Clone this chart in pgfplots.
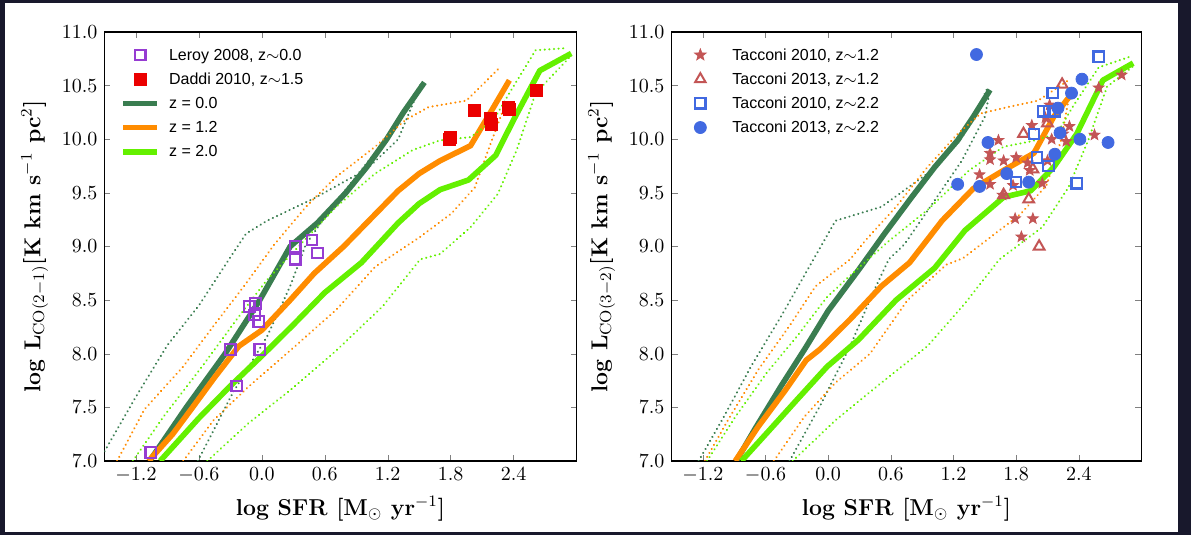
\documentclass[border=0pt]{standalone}
\usepackage{fontspec}
\usepackage{pgfplots}
\pgfplotsset{compat=1.18}
\newfontfamily\legfont{Liberation Sans}
\definecolor{dkg}{RGB}{58,125,80}
\definecolor{org}{RGB}{255,140,0}
\definecolor{lgr}{RGB}{100,240,0}
\definecolor{leroy}{RGB}{150,60,210}
\definecolor{daddi}{RGB}{235,0,0}
\definecolor{indr}{RGB}{195,85,85}
\definecolor{roy}{RGB}{65,105,225}
\definecolor{bgtop}{RGB}{24,24,44}
\newcommand\ls{\rule[-2.6pt]{0pt}{9.2pt}}
\pgfdeclareplotmark{fstar}{%
  \pgfpathmoveto{\pgfpointpolar{90}{\pgfplotmarksize}}%
  \pgfpathlineto{\pgfpointpolar{126}{0.42*\pgfplotmarksize}}%
  \pgfpathlineto{\pgfpointpolar{162}{\pgfplotmarksize}}%
  \pgfpathlineto{\pgfpointpolar{198}{0.42*\pgfplotmarksize}}%
  \pgfpathlineto{\pgfpointpolar{234}{\pgfplotmarksize}}%
  \pgfpathlineto{\pgfpointpolar{270}{0.42*\pgfplotmarksize}}%
  \pgfpathlineto{\pgfpointpolar{306}{\pgfplotmarksize}}%
  \pgfpathlineto{\pgfpointpolar{342}{0.42*\pgfplotmarksize}}%
  \pgfpathlineto{\pgfpointpolar{18}{\pgfplotmarksize}}%
  \pgfpathlineto{\pgfpointpolar{54}{0.42*\pgfplotmarksize}}%
  \pgfpathclose
  \pgfusepathqfillstroke}
\pgfplotsset{
  solidm/.style={line width=2.8pt, line join=round},
  dotm/.style={line width=1.15pt, line cap=round, dash pattern=on 0.01pt off 2.3pt},
  myaxis/.style={
    scale only axis, height=214.5pt,
    xmin=-1.5, xmax=3.0, ymin=7, ymax=11,
    xtick={-1.2,-0.6,0,0.6,1.2,1.8,2.4},
    ytick={7,7.5,8,8.5,9,9.5,10,10.5,11},
    tick align=inside, major tick length=3pt,
    axis line style={line width=0.9pt},
    /pgf/number format/fixed, /pgf/number format/fixed zerofill, /pgf/number format/precision=1,
    tick label style={font=\fontsize{10}{12}\selectfont},
    label style={font=\fontsize{11.5}{14}\selectfont\bfseries},
    xlabel={log SFR [M$_{\odot}$ yr$^{-1}$]},
    legend cell align=left,
    legend style={draw=none, fill=none, anchor=north west,
      font=\legfont\fontsize{8}{9.6}\selectfont},
  }
}
\begin{document}
\begin{tikzpicture}
\fill[bgtop] (0,0) rectangle (595.5pt,267.5pt);
\fill[white] (2.5pt,1.5pt) rectangle (589pt,266pt);
% ---------------- left panel
\begin{axis}[myaxis, at={(52.25pt,37pt)}, anchor=south west, width=236pt,
  legend style={at={(0.02,0.985)}},
  ylabel={log L$_{\mathrm{CO(2-1)}}$[K km s$^{-1}$ pc$^{2}$]}]
\addlegendimage{only marks, mark=square, draw=leroy, mark size=2.6pt, line width=1.1pt}
\addlegendentry{\ls\hspace{2.5pt}Leroy 2008, z$\sim$0.0}
\addlegendimage{only marks, mark=square*, draw=daddi, fill=daddi, mark size=3pt}
\addlegendentry{\ls\hspace{2.5pt}Daddi 2010, z$\sim$1.5}
\addlegendimage{no marks, dkg, line width=2.8pt}
\addlegendentry{\ls\hspace{2.5pt}z = 0.0}
\addlegendimage{no marks, org, line width=2.8pt}
\addlegendentry{\ls\hspace{2.5pt}z = 1.2}
\addlegendimage{no marks, lgr, line width=2.8pt}
\addlegendentry{\ls\hspace{2.5pt}z = 2.0}
% data points
\addplot[only marks, mark=square, mark size=2.6pt, draw=leroy, line width=1.1pt, forget plot] coordinates {
(-1.06,7.08) (-0.30,8.04) (-0.02,8.04) (-0.24,7.70) (-0.12,8.44) (-0.06,8.47)
(-0.07,8.36) (-0.03,8.30) (0.32,9.00) (0.32,8.88) (0.48,9.06) (0.53,8.94)};
\addplot[only marks, mark=square*, mark size=3pt, draw=daddi, fill=daddi, forget plot] coordinates {
(1.79,10.00) (1.80,10.02) (2.03,10.27) (2.18,10.19) (2.19,10.14) (2.35,10.30) (2.36,10.28) (2.62,10.46)};
% z = 0.0
\addplot[dotm, color=dkg, forget plot] coordinates {(-1.5,7.09) (-1.2,7.6) (-0.9,8.08) (-0.6,8.45) (-0.3,8.9) (-0.15,9.12) (0.05,9.24) (0.5,9.45) (1.0,9.72) (1.3,10.0) (1.52,10.52)};
\addplot[dotm, color=dkg, forget plot] coordinates {(-0.61,7.0) (-0.28,7.63) (0.05,8.16) (0.27,8.63) (0.42,9.02) (0.67,9.37) (0.97,9.74) (1.30,10.15) (1.52,10.52)};
\addplot[solidm, color=dkg, forget plot] coordinates {(-1.07,7.0) (-0.72,7.5) (-0.35,8.0) (-0.02,8.5) (0.27,9.0) (0.53,9.22) (0.8,9.5) (1.0,9.74) (1.19,10.0) (1.35,10.25) (1.55,10.53)};
% z = 1.2
\addplot[dotm, color=org, forget plot] coordinates {(-1.38,7.0) (-1.12,7.48) (-0.75,7.88) (-0.46,8.26) (-0.17,8.63) (0.12,9.02) (0.42,9.37) (0.71,9.65) (1.08,9.93) (1.37,10.18) (1.59,10.3) (1.95,10.36) (2.28,10.68)};
\addplot[dotm, color=org, forget plot] coordinates {(-0.75,7.0) (-0.46,7.38) (-0.13,7.69) (0.27,8.03) (0.71,8.41) (1.08,8.81) (1.51,9.09) (1.81,9.31) (2.03,9.55) (2.17,9.93) (2.33,10.35)};
\addplot[solidm, color=org, forget plot] coordinates {(-1.08,7.0) (-0.85,7.25) (-0.66,7.5) (-0.45,7.78) (-0.22,8.07) (0.0,8.22) (0.27,8.5) (0.5,8.75) (0.78,9.0) (1.05,9.27) (1.3,9.52) (1.5,9.68) (1.7,9.8) (1.99,9.94) (2.18,10.25) (2.36,10.55)};
% z = 2.0
\addplot[dotm, color=lgr, forget plot] coordinates {(-1.23,7.0) (-0.94,7.41) (-0.57,7.88) (-0.24,8.32) (0.05,8.69) (0.34,8.99) (0.71,9.37) (1.08,9.68) (1.44,9.9) (1.70,9.99) (1.99,10.02) (2.21,10.18) (2.36,10.43) (2.61,10.83) (2.91,10.85)};
\addplot[dotm, color=lgr, forget plot] coordinates {(-0.52,7.0) (-0.13,7.35) (0.27,7.66) (0.71,8.03) (1.15,8.44) (1.51,8.88) (1.70,8.93) (1.99,9.18) (2.25,9.49) (2.43,9.9) (2.61,10.43) (2.94,10.77)};
\addplot[solidm, color=lgr, forget plot] coordinates {(-0.97,7.0) (-0.6,7.4) (-0.3,7.7) (0.0,7.98) (0.3,8.27) (0.6,8.57) (0.95,8.85) (1.3,9.22) (1.5,9.4) (1.7,9.53) (1.97,9.62) (2.23,9.85) (2.4,10.18) (2.65,10.64) (2.95,10.8)};
\end{axis}
% ---------------- right panel
\begin{axis}[myaxis, at={(335.75pt,37pt)}, anchor=south west, width=235pt,
  legend style={at={(0.035,0.985)}},
  ylabel={log L$_{\mathrm{CO(3-2)}}$[K km s$^{-1}$ pc$^{2}$]}]
\addlegendimage{only marks, mark=fstar, draw=indr, fill=indr, mark size=3pt}
\addlegendentry{\ls\hspace{11pt}Tacconi 2010, z$\sim$1.2}
\addlegendimage{only marks, mark=triangle, draw=indr, mark size=3pt, line width=1pt}
\addlegendentry{\ls\hspace{11pt}Tacconi 2013, z$\sim$1.2}
\addlegendimage{only marks, mark=square, draw=roy, mark size=2.6pt, line width=1.1pt}
\addlegendentry{\ls\hspace{11pt}Tacconi 2010, z$\sim$2.2}
\addlegendimage{only marks, mark=*, draw=roy, fill=roy, mark size=3pt}
\addlegendentry{\ls\hspace{11pt}Tacconi 2013, z$\sim$2.2}
% data points
\addplot[only marks, mark=fstar, mark size=2.8pt, draw=indr, fill=indr, forget plot] coordinates {
(2.81,10.60) (2.59,10.48) (2.12,10.32) (1.95,10.13) (2.31,10.12) (2.08,10.20) (2.28,9.98) (2.55,10.04)
(1.63,9.99) (1.55,9.87) (1.55,9.81) (1.68,9.80) (1.80,9.83) (1.91,9.78) (1.93,9.71) (2.10,9.80)
(1.45,9.67) (1.55,9.58) (1.77,9.57) (2.05,9.59) (1.67,9.48) (1.79,9.26) (1.96,9.26) (1.85,9.09)
(2.25,10.05) (2.14,10.00)};
\addplot[only marks, mark=triangle, mark size=3.1pt, draw=indr, line width=1pt, forget plot] coordinates {
(2.24,10.51) (2.10,10.15) (1.87,10.05) (1.96,9.72) (1.68,9.48) (1.92,9.44) (2.02,9.00)};
\addplot[only marks, mark=*, mark size=3pt, draw=roy, fill=roy, forget plot] coordinates {
(1.42,10.79) (2.43,10.56) (2.33,10.43) (2.20,10.29) (2.22,10.06) (2.41,10.00) (2.68,9.97) (1.53,9.97)
(2.17,9.86) (1.71,9.68) (1.24,9.58) (1.45,9.56) (1.92,9.60)};
\addplot[only marks, mark=square, mark size=2.6pt, draw=roy, line width=1.1pt, forget plot] coordinates {
(2.59,10.77) (2.15,10.43) (2.06,10.26) (2.12,10.26) (2.17,10.26) (1.97,10.05) (2.00,9.83) (2.11,9.75) (1.80,9.60) (2.38,9.59)};
% z = 0.0
\addplot[dotm, color=dkg, forget plot] coordinates {(-1.24,7.0) (-1.0,7.41) (-0.74,7.88) (-0.45,8.35) (-0.17,8.83) (0.07,9.24) (0.51,9.37) (0.95,9.68) (1.24,9.96) (1.39,10.18) (1.53,10.49)};
\addplot[dotm, color=dkg, forget plot] coordinates {(-0.37,7.0) (-0.08,7.51) (0.21,8.07) (0.43,8.57) (0.58,8.88) (0.73,9.02) (1.02,9.43) (1.28,9.8) (1.50,10.21) (1.55,10.46)};
\addplot[solidm, color=dkg, forget plot] coordinates {(-0.88,7.0) (-0.7,7.3) (-0.45,7.7) (-0.22,8.05) (0.0,8.4) (0.29,8.78) (0.54,9.12) (0.80,9.46) (1.02,9.74) (1.24,9.99) (1.39,10.21) (1.55,10.46)};
% z = 1.2
\addplot[dotm, color=org, forget plot] coordinates {(-1.18,7.0) (-0.96,7.38) (-0.67,7.85) (-0.37,8.26) (-0.12,8.63) (0.21,8.88) (0.36,9.06) (0.65,9.37) (0.95,9.74) (1.24,10.05) (1.46,10.24) (1.72,10.3) (2.01,10.36) (2.30,10.55)};
\addplot[dotm, color=org, forget plot] coordinates {(-0.52,7.0) (-0.23,7.41) (0.07,7.73) (0.40,8.0) (0.76,8.5) (1.13,8.83) (1.29,8.89) (1.84,9.30) (2.09,9.57) (2.23,9.99) (2.30,10.36)};
\addplot[solidm, color=org, forget plot] coordinates {(-0.89,7.0) (-0.67,7.32) (-0.41,7.66) (-0.21,7.94) (-0.08,8.04) (0.21,8.32) (0.51,8.63) (0.78,8.85) (1.09,9.24) (1.39,9.54) (1.68,9.71) (1.97,9.87) (2.16,10.21) (2.36,10.46)};
% z = 2.0
\addplot[dotm, color=lgr, forget plot] coordinates {(-1.16,7.0) (-0.89,7.41) (-0.59,7.82) (-0.30,8.16) (-0.01,8.53) (0.29,8.8) (0.58,9.05) (0.95,9.34) (1.35,9.71) (1.68,9.93) (1.94,9.98) (2.19,10.05) (2.34,10.3) (2.59,10.67) (2.89,10.77)};
\addplot[dotm, color=lgr, forget plot] coordinates {(-0.34,7.0) (0.07,7.38) (0.51,7.73) (0.95,8.07) (1.31,8.47) (1.64,8.88) (1.75,8.96) (2.05,9.18) (2.30,9.55) (2.49,9.99) (2.67,10.49) (2.92,10.68)};
\addplot[solidm, color=lgr, forget plot] coordinates {(-0.83,7.0) (-0.56,7.29) (-0.30,7.57) (-0.01,7.88) (0.29,8.13) (0.65,8.5) (1.02,8.8) (1.31,9.15) (1.68,9.46) (1.94,9.52) (2.16,9.74) (2.38,10.05) (2.63,10.55) (2.92,10.71)};
\end{axis}
\end{tikzpicture}
\end{document}
